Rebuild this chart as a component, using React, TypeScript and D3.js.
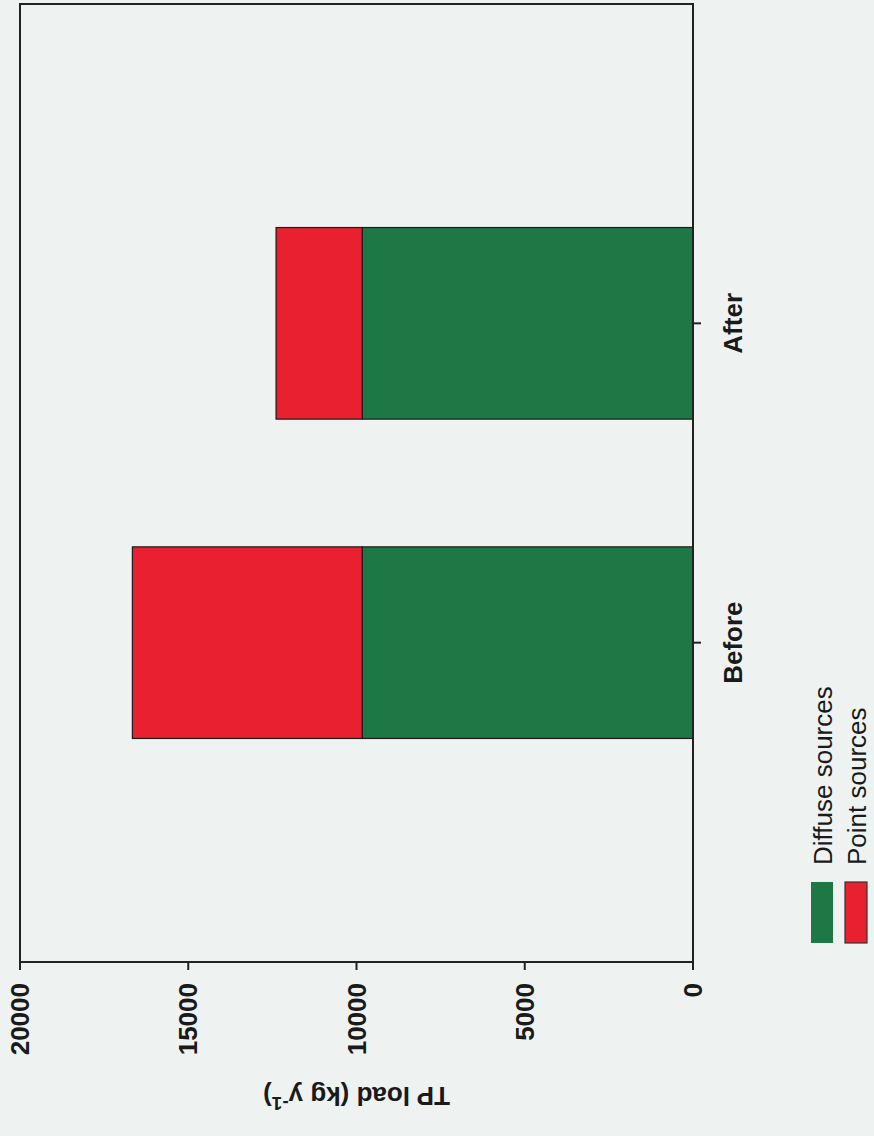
import React from "react";
import * as d3 from "d3";

const categories = ["Before", "After"];
const diffuseSources = [9830, 9830];
const pointSources = [6830, 2560];
const valueTicks = [0, 5000, 10000, 15000, 20000];
const legendLabels = ["Diffuse sources", "Point sources"];
const colors = ["#1d7846", "#e8202f"];

const W = 874;
const H = 1136;
const FONT = "Arial, 'Liberation Sans', Helvetica, sans-serif";

export default function App() {
  // Chart is drawn rotated 90° CCW: value axis runs right (0) to left (20000)
  const left = 20, right = 693, top = 4, bottom = 962;
  const x = d3.scaleLinear().domain([0, 20000]).range([right, left]);
  const y = d3
    .scaleBand()
    .domain(categories)
    .range([bottom, top])
    .paddingInner(0.4)
    .paddingOuter(0.7);

  const stack = d3
    .stack<any>()
    .keys(["diffuse", "point"])(
      categories.map((c, i) => ({ cat: c, diffuse: diffuseSources[i], point: pointSources[i] }))
    );

  return (
    <svg
      width={W}
      height={H}
      style={{ position: "absolute", left: 0, top: 0, background: "#eef3f1" }}
      fontFamily={FONT}
    >
      <rect x={0} y={0} width={W} height={H} fill="#eef3f1" />
      {/* bars */}
      {stack.map((layer, li) =>
        layer.map((d, i) => (
          <rect
            key={`${li}-${i}`}
            x={x(d[1])}
            y={y(categories[i])!}
            width={x(d[0]) - x(d[1])}
            height={y.bandwidth()}
            fill={colors[li]}
            stroke="#1a1a1a"
            strokeWidth={1.2}
          />
        ))
      )}
      {/* frame */}
      <rect
        x={left}
        y={top}
        width={right - left}
        height={bottom - top}
        fill="none"
        stroke="#222"
        strokeWidth={2}
      />
      {/* value ticks */}
      {valueTicks.map((t) => (
        <g key={t}>
          <line x1={x(t)} x2={x(t)} y1={bottom} y2={bottom + 8} stroke="#222" strokeWidth={2} />
          <text
            transform={`translate(${x(t) + 9},${bottom + 21}) rotate(-90)`}
            textAnchor="end"
            fontSize={26}
            fontWeight="bold"
            fill="#1a1a1a"
          >
            {t}
          </text>
        </g>
      ))}
      {/* category ticks & labels */}
      {categories.map((c) => {
        const cy = y(c)! + y.bandwidth() / 2;
        return (
          <g key={c}>
            <line x1={right} x2={right + 8} y1={cy} y2={cy} stroke="#222" strokeWidth={2} />
            <text
              transform={`translate(${right + 49},${cy}) rotate(-90)`}
              textAnchor="middle"
              fontSize={26}
              fontWeight="bold"
              fill="#1a1a1a"
            >
              {c}
            </text>
          </g>
        );
      })}
      {/* value axis title (upside down) */}
      <text
        transform={`translate(${(left + right) / 2},${1087}) rotate(180)`}
        textAnchor="middle"
        fontSize={26}
        fontWeight="bold"
        fill="#1a1a1a"
      >
        TP load (kg y
        <tspan dy={-10} fontSize={19}>-1</tspan>
        <tspan dy={10}>)</tspan>
      </text>
      {/* legend */}
      {legendLabels.map((l, i) => {
        const bx = 811 + i * 34;
        return (
          <g key={l}>
            <rect
              x={bx}
              y={882}
              width={22}
              height={61}
              fill={colors[i]}
              stroke={i === 1 ? "#333" : "none"}
              strokeWidth={1.2}
            />
            <text
              transform={`translate(${bx + 21},${865}) rotate(-90)`}
              textAnchor="start"
              fontSize={26}
              fill="#1a1a1a"
            >
              {l}
            </text>
          </g>
        );
      })}
    </svg>
  );
}
